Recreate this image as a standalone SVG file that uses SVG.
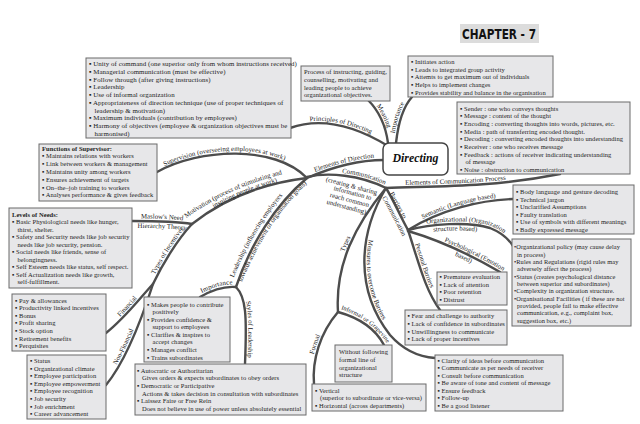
<svg xmlns="http://www.w3.org/2000/svg" width="640" height="424" viewBox="0 0 640 424">
<style>
.bx{fill:#e7e7e9;stroke:#6a6a6a;stroke-width:1}
.t{font-family:"Liberation Serif","DejaVu Serif",serif;font-size:6.5px;letter-spacing:0.06px;fill:#222}
.t7{font-size:6.9px}
.t65{font-size:6.4px}
.c{fill:none;stroke:#4d4d4d;stroke-width:2.4;stroke-linecap:round}
.l{font-family:"Liberation Serif","DejaVu Serif",serif;font-size:6.8px;fill:#222}
.hd{font-weight:bold}
</style>
<defs>
<path id="p_sup" d="M157,172 C200,148 275,145 307,178"/>
<path id="p_supT" d="M150,177 C198,146 278,143 312,183"/>
<path id="p_mot" d="M192,224 C225,198 265,183 307,178"/>
<path id="p_motA" d="M174.3,227.1 C208,199.5 257,175.5 318.8,167.1"/>
<path id="p_motB" d="M178.4,232.1 C212,204.8 259.2,181.6 319.7,173.5"/>
<path id="p_mas" d="M132,221 C150,221 175,221 192,224"/>
<path id="p_masA" d="M132,218.5 C150,218.5 175,218.5 192,221.5"/>
<path id="p_masB" d="M132,228 C150,228 175,228 192,231"/>
<path id="p_inc" d="M153,284 C162,265 177,240 192,224"/>
<path id="p_fin" d="M106,333 C125,318 140,298 153,284"/>
<path id="p_nfin" d="M106,385 C125,362 142,318 153,284"/>
<path id="p_lead" d="M236,287 C250,245 275,205 307,178"/>
<path id="p_leadA" d="M225.8,298.5 C244.2,245.7 271.8,200 312.1,166.5"/>
<path id="p_leadB" d="M234.7,301.7 C252.2,250.5 278.5,206.3 318.2,173.9"/>
<path id="p_limp" d="M200,297 C212,290 225,286 236,287"/>
<path id="p_sty" d="M236,287 C246,297 247,315 245,364"/>
<path id="p_edir" d="M307,178 C330,168 358,160 384,160"/>
<path id="p_comm" d="M307,177 C328,172 360,175 386,188"/>
<path id="p_ecom" d="M386,188 C430,186 490,188 560,174"/>
<path id="p_bar" d="M386,188 C394,201 400,216 408,230"/>
<path id="p_barA" d="M379.2,177.2 C391.3,195.2 401.3,215.3 415.3,243.3"/>
<path id="p_barB" d="M372.2,181.9 C384,199.6 393.9,219.3 407.8,247.1"/>
<path id="p_sem" d="M408,230 C440,210 480,200 513,199"/>
<path id="p_org" d="M408,230 C430,224 468,221 490,228 C500,232 508,238 513,246"/>
<path id="p_orgA" d="M408,227.5 C430,221.5 468,218.5 490,225.5 C500,229.5 508,235.5 513,243.5"/>
<path id="p_orgB" d="M408,236.5 C430,230.5 468,227.5 490,234.5 C500,238.5 508,244.5 513,252.5"/>
<path id="p_psy" d="M408,231 C432,238 464,251 500,272"/>
<path id="p_psyA" d="M408.7,228.6 C432.8,235.7 465,248.8 501.4,269.9 L519.4,281.9"/>
<path id="p_psyB" d="M406,237.7 C430,244.5 461,256 496.1,277.8 L514.1,289.8"/>
<path id="p_per" d="M408,230 C418,260 425,290 440,310"/>
<path id="p_mea" d="M386,188 C358,235 355,290 390,335 C405,352 420,357 435,358"/>
<path id="p_typ" d="M338,312 C335,265 355,225 386,188"/>
<path id="p_inf" d="M338,312 C360,318 376,330 384,345"/>
<path id="p_infT" d="M332,309 C358,316 378,330 389,352"/>
<path id="p_for" d="M314,384 C312,360 320,333 338,312"/>
<path id="p_pri" d="M290,128 C318,118 352,124 388,146"/>
<path id="p_mean" d="M368,100 C380,112 386,128 388,143"/>
<path id="p_imp" d="M396,143 C398,125 402,108 412,97"/>
</defs>

<g id="connectors">
<use href="#p_sup" class="c"/>
<use href="#p_mot" class="c"/>
<use href="#p_mas" class="c"/>
<use href="#p_inc" class="c"/>
<use href="#p_fin" class="c"/>
<use href="#p_nfin" class="c"/>
<use href="#p_lead" class="c"/>
<use href="#p_limp" class="c"/>
<use href="#p_sty" class="c"/>
<use href="#p_edir" class="c"/>
<use href="#p_comm" class="c"/>
<use href="#p_ecom" class="c"/>
<use href="#p_bar" class="c"/>
<use href="#p_sem" class="c"/>
<use href="#p_org" class="c"/>
<use href="#p_psy" class="c"/>
<use href="#p_per" class="c"/>
<use href="#p_mea" class="c"/>
<use href="#p_typ" class="c"/>
<use href="#p_inf" class="c"/>
<use href="#p_for" class="c"/>
<use href="#p_pri" class="c"/>
<use href="#p_mean" class="c"/>
<use href="#p_imp" class="c"/>
</g>

<g id="labels" class="l">
<text dy="-2.5" text-anchor="middle"><textPath href="#p_supT" startOffset="45%">Supervision (overseeing employees at work)</textPath></text>
<text text-anchor="middle"><textPath href="#p_motA" startOffset="43%">Motivation (process of stimulating and</textPath><textPath href="#p_motB" startOffset="50%">inspiring people at work)</textPath></text>
<text text-anchor="middle"><textPath href="#p_masA" startOffset="50%">Maslow's Need</textPath><textPath href="#p_masB" startOffset="50%">Hierarchy Theory</textPath></text>
<text dy="-2.5" text-anchor="middle"><textPath href="#p_inc" startOffset="50%">Types of Incentives</textPath></text>
<text dy="-2.5" text-anchor="middle"><textPath href="#p_fin" startOffset="50%">Financial</textPath></text>
<text dy="-2.5" text-anchor="middle"><textPath href="#p_nfin" startOffset="38%">Non-Financial</textPath></text>
<text text-anchor="middle"><textPath href="#p_leadA" startOffset="44%">Leadership (influencing employees</textPath><textPath href="#p_leadB" startOffset="52%">towards achievement of organisation goals)</textPath></text>
<text dy="-2.5" text-anchor="middle"><textPath href="#p_limp" startOffset="50%">Importance</textPath></text>
<text dy="-2.5" text-anchor="middle"><textPath href="#p_sty" startOffset="57%">Styles of Leadership</textPath></text>
<text dy="-2.5" text-anchor="middle"><textPath href="#p_edir" startOffset="50%">Elements of Direction</textPath></text>
<text dy="-2.5" text-anchor="middle"><textPath href="#p_comm" startOffset="70%">Communication</textPath></text>
<g text-anchor="middle">
<text transform="translate(351,188) rotate(15)">(creating &amp; sharing</text>
<text transform="translate(352,195) rotate(15)">information to</text>
<text transform="translate(349,202) rotate(15)">reach common</text>
<text transform="translate(346,209) rotate(15)">understanding)</text>
</g>
<text dy="-2.5" text-anchor="middle"><textPath href="#p_ecom" startOffset="40%">Elements of Communication Process</textPath></text>
<text text-anchor="middle"><textPath href="#p_barA" startOffset="45%">Barriers to</textPath><textPath href="#p_barB" startOffset="55%">Communication</textPath></text>
<text dy="-2.5"><textPath href="#p_sem" startOffset="18">Semantic (Language based)</textPath></text>
<text><textPath href="#p_orgA" startOffset="19">Organizational (Organization</textPath><textPath href="#p_orgB" startOffset="26">structure based)</textPath></text>
<text><textPath href="#p_psyA" startOffset="38">Psychological (Emotion</textPath><textPath href="#p_psyB" startOffset="52">based)</textPath></text>
<text dy="-2.5" text-anchor="middle"><textPath href="#p_per" startOffset="45%">Personal Barriers</textPath></text>
<text dy="-2.5"><textPath href="#p_mea" startOffset="55">Measures to overcome Barriers</textPath></text>
<text dy="-2.5" text-anchor="middle"><textPath href="#p_typ" startOffset="50%">Types</textPath></text>
<text dy="-2.5" text-anchor="middle" font-size="6.3"><textPath href="#p_infT" startOffset="50%">Informal or Grapevine</textPath></text>
<text dy="-2.5" text-anchor="middle"><textPath href="#p_for" startOffset="50%">Formal</textPath></text>
<text dy="-2.5" text-anchor="middle"><textPath href="#p_pri" startOffset="50%">Principles of Directing</textPath></text>
<text dy="-2.5" text-anchor="middle"><textPath href="#p_mean" startOffset="45%">Meaning</textPath></text>
<text dy="-2.5" text-anchor="middle"><textPath href="#p_imp" startOffset="50%">Importance</textPath></text>
</g>

<g id="chapter">
<rect x="460" y="24" width="79" height="19" fill="#dcdcdc"/>
<text x="462" y="39" font-family="DejaVu Sans,sans-serif" font-weight="bold" font-size="14" textLength="74" lengthAdjust="spacingAndGlyphs" fill="#111">CHAPTER - 7</text>
</g>

<g id="directing">
<rect x="383" y="143" width="65" height="32" rx="6" fill="#fff" stroke="#444" stroke-width="1.5"/>
<text x="415.5" y="162" text-anchor="middle" font-family="Liberation Serif,serif" font-weight="bold" font-style="italic" font-size="13" textLength="46" lengthAdjust="spacingAndGlyphs" fill="#111">Directing</text>
</g>

<g id="principles">
<rect class="bx" x="86" y="58" width="205" height="80"/>
<text class="t t7">
<tspan x="89" y="66.3">▪ Unity of command (one superior only from whom instructions received)</tspan>
<tspan x="89" y="74">▪ Managerial communication (must be effective)</tspan>
<tspan x="89" y="81.7">▪ Follow through (after giving instructions)</tspan>
<tspan x="89" y="89.4">▪ Leadership</tspan>
<tspan x="89" y="97.1">▪ Use of informal organization</tspan>
<tspan x="89" y="104.8">▪ Appropriateness of direction technique (use of proper techniques of</tspan>
<tspan x="94.5" y="112.5">leadership &amp; motivation)</tspan>
<tspan x="89" y="120.2">▪ Maximum individuals (contribution by employees)</tspan>
<tspan x="89" y="127.9">▪ Harmony of objectives (employee &amp; organization objectives must be</tspan>
<tspan x="94.5" y="135.6">harmonised)</tspan>
</text>
</g>

<g id="meaning">
<rect class="bx" x="301" y="66" width="89" height="35"/>
<text class="t">
<tspan x="304" y="74.3">Process of instructing, guiding,</tspan>
<tspan x="304" y="81.9">counselling, motivating and</tspan>
<tspan x="304" y="89.5">leading people to achieve</tspan>
<tspan x="304" y="97.1">organizational objectives.</tspan>
</text>
</g>

<g id="importance">
<rect class="bx" x="408" y="56" width="145" height="41"/>
<text class="t">
<tspan x="411" y="64">▪ Initiates action</tspan>
<tspan x="411" y="71.7">▪ Leads to integrated group activity</tspan>
<tspan x="411" y="79.4">▪ Attemts to get maximum out of individuals</tspan>
<tspan x="411" y="87.1">▪ Helps to implement changes</tspan>
<tspan x="411" y="94.8">▪ Provides stability and balance in the organisation</tspan>
</text>
</g>

<g id="elements">
<rect class="bx" x="457" y="102" width="173" height="72"/>
<text class="t">
<tspan x="460" y="110.6">▪ Sender : one who conveys thoughts</tspan>
<tspan x="460" y="118.25">▪ Message : content of the thought</tspan>
<tspan x="460" y="125.9">▪ Encoding : converting thoughts into words, pictures, etc.</tspan>
<tspan x="460" y="133.55">▪ Media : path of transferring encoded thought.</tspan>
<tspan x="460" y="141.2">▪ Decoding : converting encoded thoughts into understanding</tspan>
<tspan x="460" y="148.85">▪ Receiver : one who receives message</tspan>
<tspan x="460" y="156.5">▪ Feedback : actions of receiver indicating understanding</tspan>
<tspan x="465.5" y="164.15">of message</tspan>
<tspan x="460" y="171.8">▪ Noise : obstruction to communication</tspan>
</text>
</g>

<g id="functions">
<rect class="bx" x="39" y="144" width="118" height="57"/>
<text class="t">
<tspan x="42" y="150.5" class="hd">Functions of Supervisor:</tspan>
<tspan x="42" y="158.3">▪ Maintains relations with workers</tspan>
<tspan x="42" y="166.1">▪ Link between workers &amp; management</tspan>
<tspan x="42" y="173.9">▪ Maintains unity among workers</tspan>
<tspan x="42" y="181.7">▪ Ensures achievement of targets</tspan>
<tspan x="42" y="189.5">▪ On–the–job training to workers</tspan>
<tspan x="42" y="197.3">▪ Analyses performance &amp; gives feedback</tspan>
</text>
</g>

<g id="needs">
<rect class="bx" x="9" y="208" width="123" height="80"/>
<text class="t">
<tspan x="12" y="216.5" class="hd">Levels of Needs:</tspan>
<tspan x="12" y="224">▪ Basic Physiological needs like hunger,</tspan>
<tspan x="17.5" y="231.6">thirst, shelter.</tspan>
<tspan x="12" y="239.1">▪ Safety and Security needs like job security</tspan>
<tspan x="17.5" y="246.6">needs like job security, pension.</tspan>
<tspan x="12" y="254.2">▪ Social needs like friends, sense of</tspan>
<tspan x="17.5" y="261.7">belongingness.</tspan>
<tspan x="12" y="269.2">▪ Self Esteem needs like status, self respect.</tspan>
<tspan x="12" y="276.8">▪ Self Actualization needs like growth,</tspan>
<tspan x="17.5" y="284.3">self-fulfillment.</tspan>
</text>
</g>

<g id="financial">
<rect class="bx" x="12" y="294" width="94" height="57"/>
<text class="t">
<tspan x="15" y="302.6">▪ Pay &amp; allowances</tspan>
<tspan x="15" y="310.2">▪ Productivity linked incentives</tspan>
<tspan x="15" y="317.8">▪ Bonus</tspan>
<tspan x="15" y="325.4">▪ Profit sharing</tspan>
<tspan x="15" y="333">▪ Stock option</tspan>
<tspan x="15" y="340.6">▪ Retirement benefits</tspan>
<tspan x="15" y="348.2">▪ Perquisites</tspan>
</text>
</g>

<g id="nonfinancial">
<rect class="bx" x="27" y="355" width="79" height="64"/>
<text class="t">
<tspan x="30" y="363.3">▪ Status</tspan>
<tspan x="30" y="370.8">▪ Organizational climate</tspan>
<tspan x="30" y="378.4">▪ Employee participation</tspan>
<tspan x="30" y="385.9">▪ Employee empowerment</tspan>
<tspan x="30" y="393.4">▪ Employee recognition</tspan>
<tspan x="30" y="401">▪ Job security</tspan>
<tspan x="30" y="408.5">▪ Job enrichment</tspan>
<tspan x="30" y="416">▪ Career advancement</tspan>
</text>
</g>

<g id="leadimportance">
<rect class="bx" x="144" y="297" width="86" height="65"/>
<text class="t">
<tspan x="147" y="306.6">▪ Makes people to contribute</tspan>
<tspan x="152.5" y="314.2">positively</tspan>
<tspan x="147" y="321.7">▪ Provides confidence &amp;</tspan>
<tspan x="152.5" y="329.3">support to employees</tspan>
<tspan x="147" y="336.9">▪ Clarifies &amp; inspires to</tspan>
<tspan x="152.5" y="344.4">accept changes</tspan>
<tspan x="147" y="352">▪ Manages conflict</tspan>
<tspan x="147" y="359.6">▪ Trains subordinates</tspan>
</text>
</g>

<g id="styles">
<rect class="bx" x="135" y="364" width="171" height="51"/>
<text class="t">
<tspan x="137" y="372.6">▪ Autocratic or Authoritarian</tspan>
<tspan x="142" y="380.3">Gives orders &amp; expects subordinates to obey orders</tspan>
<tspan x="137" y="388">▪ Democratic or Participative</tspan>
<tspan x="142" y="395.6">Actions &amp; takes decision in consultation with subordinates</tspan>
<tspan x="137" y="403.3">▪ Laissez Faire or Free Rein</tspan>
<tspan x="142" y="411">Does not believe in use of power unless absolutely essential</tspan>
</text>
</g>

<g id="informal">
<rect class="bx" x="335" y="345" width="57" height="37"/>
<text class="t">
<tspan x="339" y="354.3">Without following</tspan>
<tspan x="339" y="361.9">formal line of</tspan>
<tspan x="339" y="369.5">organizational</tspan>
<tspan x="339" y="377.1">structure</tspan>
</text>
</g>

<g id="formal">
<rect class="bx" x="312" y="384" width="114" height="27"/>
<text class="t">
<tspan x="315" y="392.6">▪ Vertical</tspan>
<tspan x="320" y="400.2">(superior to subordinate or vice-versa)</tspan>
<tspan x="315" y="407.8">▪ Horizontal (across departments)</tspan>
</text>
</g>

<g id="measures">
<rect class="bx" x="435" y="355" width="128" height="56"/>
<text class="t">
<tspan x="437.5" y="362.6">▪ Clarity of ideas before communication</tspan>
<tspan x="437.5" y="370.2">▪ Communicate as per needs of receiver</tspan>
<tspan x="437.5" y="377.7">▪ Consult before communication</tspan>
<tspan x="437.5" y="385.3">▪ Be aware of tone and content of message</tspan>
<tspan x="437.5" y="392.9">▪ Ensure feedback</tspan>
<tspan x="437.5" y="400.4">▪ Follow-up</tspan>
<tspan x="437.5" y="408">▪ Be a good listener</tspan>
</text>
</g>

<g id="personal">
<rect class="bx" x="405" y="310" width="102" height="35"/>
<text class="t">
<tspan x="407.5" y="318.3">▪ Fear and challenge to authority</tspan>
<tspan x="407.5" y="325.9">▪ Lack of confidence in subordinates</tspan>
<tspan x="407.5" y="333.5">▪ Unwillingness to communicate</tspan>
<tspan x="407.5" y="341.1">▪ Lack of proper incentives</tspan>
</text>
</g>

<g id="psychological">
<rect class="bx" x="437" y="272" width="70" height="33"/>
<text class="t">
<tspan x="439.5" y="278.8">▪ Premature evaluation</tspan>
<tspan x="439.5" y="286.5">▪ Lack of attention</tspan>
<tspan x="439.5" y="294.2">▪ Poor retention</tspan>
<tspan x="439.5" y="301.9">▪ Distrust</tspan>
</text>
</g>

<g id="semantic">
<rect class="bx" x="513" y="185" width="121" height="49"/>
<text class="t">
<tspan x="516" y="194">▪ Body language and gesture decoding</tspan>
<tspan x="516" y="201.6">▪ Technical jargon</tspan>
<tspan x="516" y="209.2">▪ Unclarified Assumptions</tspan>
<tspan x="516" y="216.8">▪ Faulty translation</tspan>
<tspan x="516" y="224.4">▪ Use of symbols with different meanings</tspan>
<tspan x="516" y="232">▪ Badly expressed message</tspan>
</text>
</g>

<g id="organizational">
<rect class="bx" x="512" y="239" width="119" height="87"/>
<text class="t t65">
<tspan x="514" y="249.3">•Organizational policy (may cause delay</tspan>
<tspan x="517" y="256.6">in process)</tspan>
<tspan x="514" y="263.9">•Rules and Regulations (rigid rules may</tspan>
<tspan x="517" y="271.3">adversely affect the process)</tspan>
<tspan x="514" y="278.6">•Status (creates psychological distance</tspan>
<tspan x="517" y="285.9">between superior and subordinates)</tspan>
<tspan x="514" y="293.3">•Complexity in organization structure.</tspan>
<tspan x="514" y="300.6">•Organisational Facilities ( if these are not</tspan>
<tspan x="517" y="307.9">provided, people fail to make effective</tspan>
<tspan x="517" y="315.3">communication, e.g., complaint box,</tspan>
<tspan x="517" y="322.6">suggestion box, etc.)</tspan>
</text>
</g>
</svg>
